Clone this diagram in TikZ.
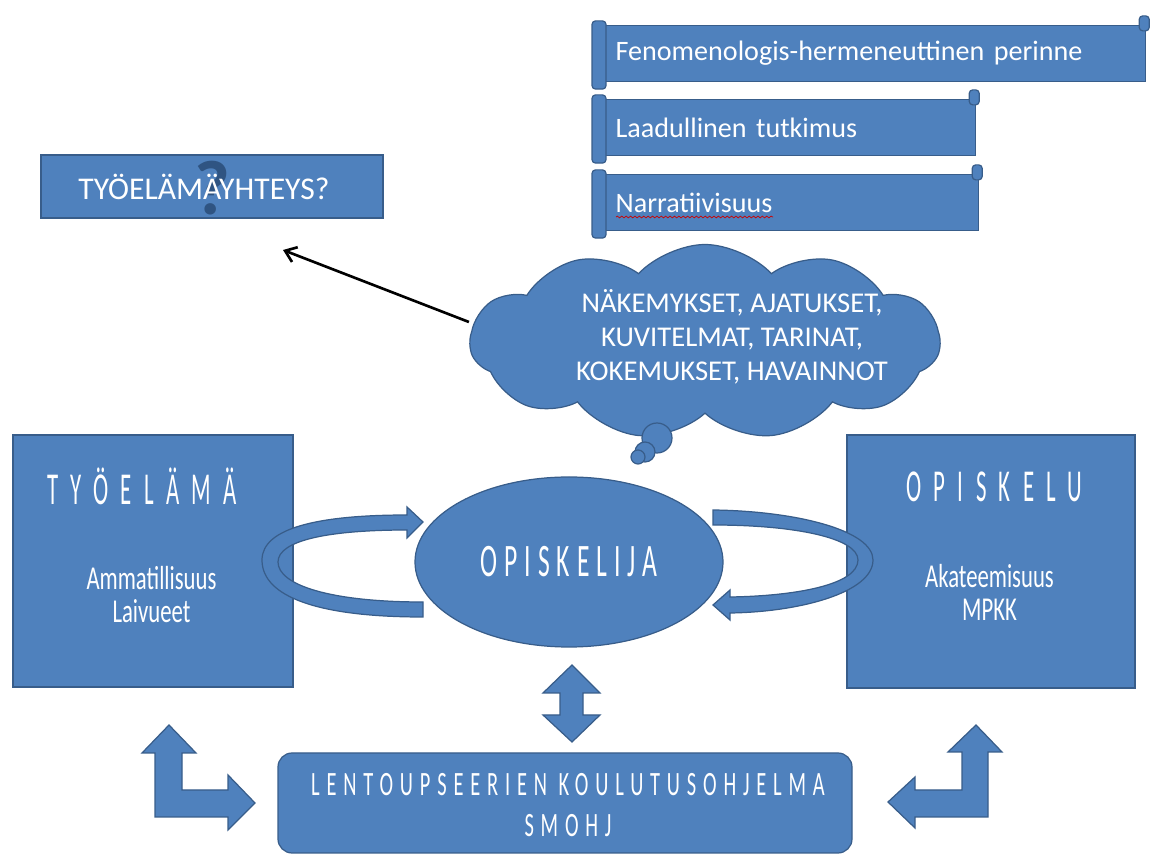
\documentclass[tikz,border=0pt]{standalone}
\usepackage{fontspec}
\setmainfont{Carlito}
\newfontfamily\agency[FakeStretch=0.68]{Carlito}
\newfontfamily\agencytitle[FakeStretch=0.5,LetterSpace=27]{Carlito}
\newfontfamily\agencyoval[FakeStretch=0.55,LetterSpace=15]{Carlito}
\newfontfamily\agencybar[FakeStretch=0.6,LetterSpace=20]{Carlito}
\usetikzlibrary{shapes, arrows.meta, positioning, calc, decorations.pathmorphing}
\definecolor{boxblue}{RGB}{79, 129, 189}
\definecolor{edgeblue}{RGB}{56, 93, 138}
\definecolor{qblue}{RGB}{47, 84, 130}

\begin{document}
\begin{tikzpicture}[
    bluebox/.style={draw=edgeblue, line width=0.7pt, fill=boxblue, text=white},
    scrollbox/.style={bluebox, anchor=west, minimum height=1.12cm, inner xsep=0.3cm,
        text width=#1, align=left, font=\fontsize{16}{19}\selectfont},
    roll/.style={draw=edgeblue, line width=0.7pt, fill=boxblue, rounded corners=2pt},
    blockarrow/.style={draw=edgeblue, line width=0.7pt, fill=boxblue, line join=miter},
    whitetext/.style={text=white, align=center}
]
    \useasboundingbox (0,0) rectangle (23.08,-17.1);

    \node[scrollbox=10.3cm] (fenom) at (12.0,-1.07) {Fenomenologis-hermeneuttinen perinne};
    \node[scrollbox=6.9cm] (laadul) at (12.0,-2.55) {Laadullinen tutkimus};
    \node[scrollbox=6.96cm] (narrat) at (12.0,-4.05) {Narratiivisuus};
    \foreach \s in {fenom, laadul, narrat} {
        \filldraw[roll] ($(\s.north west)+(-0.16,0.08)$) rectangle ($(\s.south west)+(0.12,-0.14)$);
        \filldraw[roll] ($(\s.north east)+(-0.14,0.18)$) rectangle ($(\s.north east)+(0.06,-0.12)$);
    }
    \draw[red!80!black, decorate, decoration={snake, amplitude=0.5pt, segment length=2.5pt}]
        (12.32,-4.34) -- (15.46,-4.34);

    \node[bluebox, minimum width=6.84cm, minimum height=1.26cm] (yhteys) at (4.24,-3.73) {};
    \node[font=\fontsize{44}{44}\selectfont\bfseries, text=qblue] (kysymys) at ([yshift=-0.04cm]yhteys.center) {?};
    \node[text=white, font=\fontsize{18}{20}\selectfont] (yhteysteksti) at ([xshift=-0.16cm]yhteys.center) {TYÖELÄMÄYHTEYS?};
    \coordinate (yhteyskohde) at (5.66,-5.0);

    \node[cloud, cloud puffs=11, cloud puff arc=95, cloud ignores aspect, draw=edgeblue, line width=0.7pt,
        fill=boxblue, minimum width=9.4cm, minimum height=3.9cm] (pilvi) at (14.1,-6.84) {};
    \node[whitetext, font=\fontsize{16.3}{19.5}\selectfont] (ajatukset) at (14.64,-6.74)
        {NÄKEMYKSET, AJATUKSET,\\KUVITELMAT, TARINAT,\\KOKEMUKSET, HAVAINNOT};
    \node[bluebox, circle, minimum size=0.6cm, inner sep=0pt] (kupla1) at (13.14,-8.76) {};
    \node[bluebox, circle, minimum size=0.4cm, inner sep=0pt] (kupla2) at (12.9,-9.04) {};
    \node[bluebox, circle, minimum size=0.28cm, inner sep=0pt] (kupla3) at (12.76,-9.14) {};
    \draw[-{Straight Barb[length=6pt, width=9pt]}, line width=1.5pt]
        ([yshift=0.4cm]pilvi.west) -- (yhteyskohde);

    \node[bluebox, minimum width=5.6cm, minimum height=5.04cm] (tyoelama) at (3.06,-11.22) {};
    \node[text=white, font=\agencytitle\fontsize{26}{26}\selectfont] (tyoelamaotsikko) at (2.84,-9.72) {TYÖELÄMÄ};
    \node[whitetext, font=\agency\fontsize{19}{19}\selectfont] (ammatillisuus) at (3.03,-11.89) {Ammatillisuus\\Laivueet};

    \node[bluebox, minimum width=5.76cm, minimum height=5.06cm] (opiskelu) at (19.82,-11.23) {};
    \node[text=white, font=\agencytitle\fontsize{26}{26}\selectfont] (opiskeluotsikko) at (19.89,-9.74) {OPISKELU};
    \node[whitetext, font=\agency\fontsize{19}{19}\selectfont] (akateemisuus) at (19.79,-11.85) {Akateemisuus\\MPKK};

    \node[bluebox, ellipse, minimum width=6.16cm, minimum height=3.4cm,
        font=\agencyoval\fontsize{26.5}{26.5}\selectfont] (opiskelija) at (11.38,-11.24) {OPISKELIJA};

    \filldraw[blockarrow] (8.46,-12.34) .. controls (6.4,-12.34) and (5.24,-11.95) .. (5.24,-11.2)
        .. controls (5.24,-10.55) and (6.4,-10.3) .. (8.14,-10.3) -- (8.14,-10.14) -- (8.46,-10.44)
        -- (8.14,-10.76) -- (8.14,-10.6) .. controls (6.6,-10.6) and (5.56,-10.8) .. (5.56,-11.24)
        .. controls (5.56,-11.7) and (6.6,-12.04) .. (8.46,-12.04) -- cycle;
    \filldraw[blockarrow] (14.26,-10.2) .. controls (15.9,-10.22) and (17.46,-10.6) .. (17.46,-11.2)
        .. controls (17.46,-11.85) and (16.0,-12.24) .. (14.6,-12.26) -- (14.6,-12.4) -- (14.26,-12.1)
        -- (14.6,-11.8) -- (14.6,-11.94) .. controls (15.9,-11.92) and (17.16,-11.7) .. (17.16,-11.2)
        .. controls (17.16,-10.76) and (15.9,-10.5) .. (14.26,-10.5) -- cycle;

    \node[bluebox, rounded corners=8pt, minimum width=11.48cm, minimum height=2.0cm] (koulutus) at (11.3,-16.06) {};
    \node[whitetext, font=\agencybar\fontsize{19.4}{23.3}\selectfont] (koulutusteksti) at (11.36,-16.11)
        {LENTOUPSEERIEN KOULUTUSOHJELMA\\SMOHJ};

    \filldraw[blockarrow] (11.44,-13.3) -- (12.0,-13.86) -- (11.66,-13.86) -- (11.66,-14.3) -- (12.0,-14.3)
        -- (11.44,-14.84) -- (10.86,-14.3) -- (11.2,-14.3) -- (11.2,-13.86) -- (10.86,-13.86) -- cycle;
    \filldraw[blockarrow] (3.38,-14.5) -- (3.92,-15.06) -- (3.64,-15.06) -- (3.64,-15.8) -- (4.56,-15.8)
        -- (4.56,-15.5) -- (5.1,-16.06) -- (4.56,-16.6) -- (4.56,-16.34) -- (3.1,-16.34) -- (3.1,-15.06)
        -- (2.84,-15.06) -- cycle;
    \filldraw[blockarrow] (19.52,-14.5) -- (20.04,-15.04) -- (19.76,-15.04) -- (19.76,-16.34) -- (18.3,-16.34)
        -- (18.3,-16.56) -- (17.76,-16.04) -- (18.3,-15.54) -- (18.3,-15.8) -- (19.24,-15.8) -- (19.24,-15.04)
        -- (18.96,-15.04) -- cycle;
\end{tikzpicture}
\end{document}
